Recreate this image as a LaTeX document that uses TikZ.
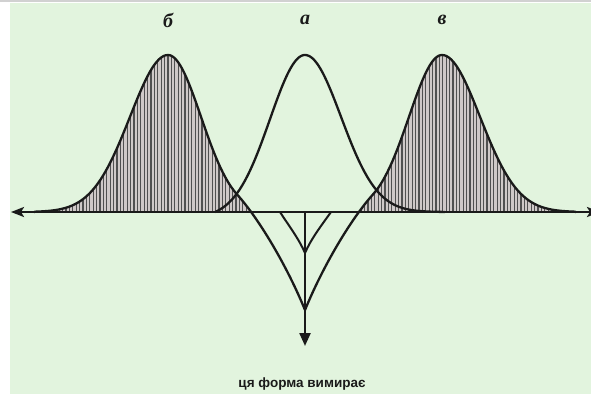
\documentclass[tikz,border=0pt]{standalone}
\usepackage{fontspec}
\newfontfamily\labfont{Liberation Serif}
\newfontfamily\capfont{Liberation Sans}
\usetikzlibrary{arrows.meta}
\definecolor{bg}{HTML}{E2F4DE}
\definecolor{hatchbg}{HTML}{CFC9C8}
\definecolor{hatchln}{HTML}{505050}
\definecolor{ink}{HTML}{1A1A1A}
\newcommand\bpath{(34,212) -- plot[domain=36:168,samples=60] (\x,{212-157*exp(-0.5*((\x-168)/38)^2)}) -- plot[domain=168:237,samples=40] (\x,{212-157*exp(-0.5*((\x-168)/33)^2)}) .. controls (259,218.8) and (287,266) .. (305,310)}
\newcommand\vpath{(305,310) .. controls (323,266) and (351,218.8) .. (373,194.4) -- plot[domain=373:442,samples=40] (\x,{212-157*exp(-0.5*((\x-442)/33)^2)}) -- plot[domain=442:574,samples=60] (\x,{212-157*exp(-0.5*((\x-442)/38)^2)}) -- (576,212)}
\begin{document}
\begin{tikzpicture}[x=1pt,y=-1pt,
  curve/.style={draw=ink,line width=2.3pt,line join=round},
  thin curve/.style={draw=ink,line width=2pt},
  hatchline/.style={hatchln,line width=1.2pt},
  lab/.style={font=\labfont\bfseries\itshape\fontsize{20}{20}\selectfont,text=ink},
  captext/.style={font=\capfont\bfseries\fontsize{13.5}{13.5}\selectfont,text=ink}]
\useasboundingbox (0,0) rectangle (591,394);
\fill[white] (0,0) rectangle (591,394);
\fill[bg] (10,3) rectangle (591,394);
\fill[black!18] (0,0) rectangle (591,2);
% hatching
\begin{scope}
  \clip (0,0) rectangle (591,212);
  \begin{scope}
    \clip \bpath -- (34,310) -- cycle;
    \fill[hatchbg] (30,40) rectangle (310,212);
    \foreach \i in {0,...,85} \draw[hatchline] ({32+3.4*\i},40) -- ({32+3.4*\i},212);
  \end{scope}
  \begin{scope}
    \clip \vpath -- (576,310) -- cycle;
    \fill[hatchbg] (300,40) rectangle (580,212);
    \foreach \i in {0,...,85} \draw[hatchline] ({300+3.4*\i},40) -- ({300+3.4*\i},212);
  \end{scope}
\end{scope}
% curves
\draw[curve] \bpath;
\draw[curve] \vpath;
\draw[curve] plot[domain=215:305,samples=60] (\x,{212-(163*exp(-0.5*((\x-305)/35)^2)-6)})
  -- plot[domain=305:441,samples=70] (\x,{212-157*exp(-0.5*((\x-305)/36)^2)}) -- (445,212);
% axis
\coordinate (axL) at (11,212);
\coordinate (axR) at (600,212);
\draw[curve,{Stealth[length=13pt,width=10pt,inset=3pt]}-{Stealth[length=13pt,width=10pt,inset=3pt]}] (axL) -- (axR);
% inner V and arrow
\coordinate (vj) at (305,253);
\coordinate (il) at (280,212);
\coordinate (ir) at (331,212);
\draw[thin curve] (il) .. controls (289,226) and (299,239) .. (vj);
\draw[thin curve] (ir) .. controls (321,226) and (311,239) .. (vj);
\coordinate (vt) at (305,212);
\coordinate (vb) at (305,346);
\draw[curve,-{Triangle[length=13pt,width=11pt]}] (vt) -- (vb);
% labels
\node[lab] (lb) at (168,20) {б};
\node[lab] (la) at (305,20) {а};
\node[lab] (lv) at (442,20) {в};
\node[captext,anchor=base] (capt) at (302,387) {ця форма вимирає};
\end{tikzpicture}
\end{document}
